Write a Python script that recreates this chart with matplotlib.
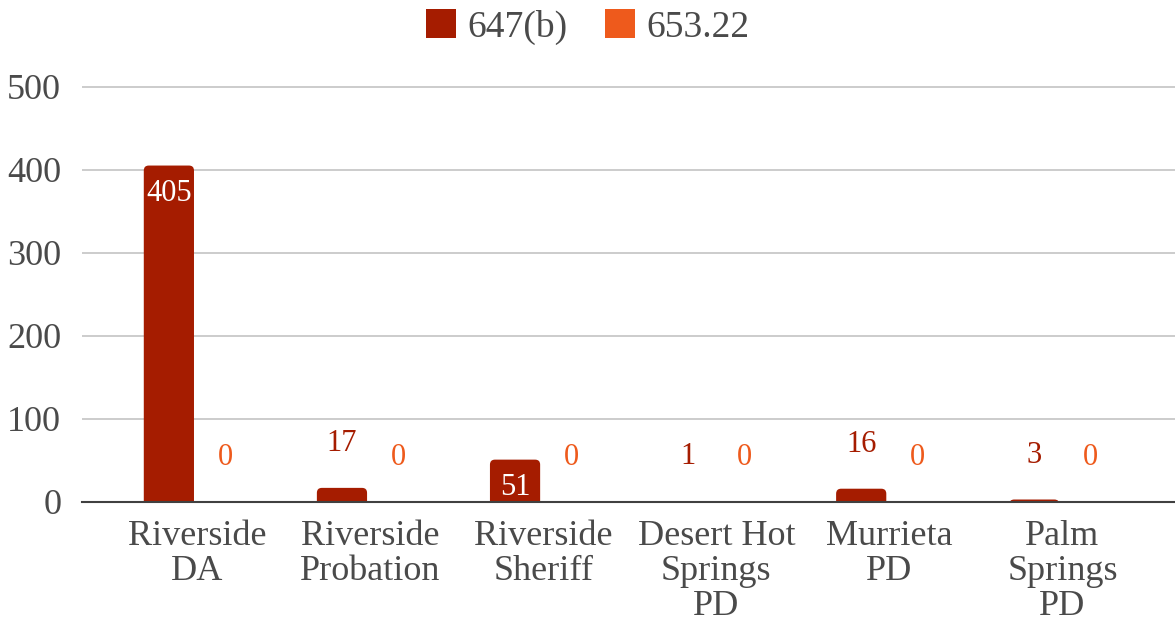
import matplotlib.pyplot as plt
from matplotlib.patches import FancyBboxPatch, Patch
import numpy as np

categories = ["Riverside\nDA", "Riverside\nProbation", "Riverside\nSheriff",
              "Desert Hot\nSprings\nPD", "Murrieta\nPD", "Palm\nSprings\nPD"]
s647b = [405, 17, 51, 1, 16, 3]
s653 = [0, 0, 0, 0, 0, 0]
series_names = ["647(b)", "653.22"]

dark = "#a51c00"
orange = "#ee5a1c"

plt.rcParams['font.family'] = ['Liberation Serif', 'DejaVu Serif']

fig = plt.figure(figsize=(11.75, 6.27), dpi=100)
W, H = 1175, 627
ax = fig.add_axes([82 / W, (H - 502) / H, 1 - 82 / W, (502 - 70) / H])

x = np.arange(len(categories))
bw = 0.29
off = 0.163
b1 = ax.bar(x - off, s647b, bw, color=dark, label=series_names[0])
b2 = ax.bar(x + off, s653, bw, color=orange, label=series_names[1])

ax.set_xlim(-0.665, 5.65)
ax.set_ylim(0, 520)

# rounded tops: swap rectangles for rounded boxes running below the baseline
px_x = 1 / 173.0
px_y = 1 / 0.83
for bars in (b1, b2):
    for r in bars:
        h = r.get_height()
        r.set_visible(False)
        if h <= 0:
            continue
        x0, w = r.get_x(), r.get_width()
        rad = 5 * px_x
        asp = px_y / px_x
        p = FancyBboxPatch((x0 + rad, -20), w - 2 * rad, h + 20 - rad * asp,
                           boxstyle="round,pad=%f,rounding_size=%f" % (rad, rad),
                           mutation_aspect=asp,
                           facecolor=r.get_facecolor(), edgecolor="none", zorder=2)
        ax.add_patch(p)

# data labels
for xi, v in zip(x - off, s647b):
    if v > 40:
        ax.annotate(str(v), (xi, v), xytext=(0, -20), textcoords="offset points",
                    ha="center", va="center", color="white", fontsize=22)
    else:
        ax.annotate(str(v), (xi, v), xytext=(0, 32), textcoords="offset points",
                    ha="center", va="center", color=dark, fontsize=22)
for xi, v in zip(x + off, s653):
    ax.annotate(str(v), (xi, v), xytext=(0, 32), textcoords="offset points",
                ha="center", va="center", color=orange, fontsize=22)

ax.set_yticks([0, 100, 200, 300, 400, 500])
ax.yaxis.grid(True, color="#c8c8c8", linewidth=1.3)
ax.set_axisbelow(True)
ax.set_xticks(x)
ax.set_xticklabels(categories, linespacing=1.08)
ax.tick_params(axis="x", length=0, pad=13, labelsize=26, colors="#4a4a4a")
ax.tick_params(axis="y", length=0, pad=15, labelsize=26, colors="#4a4a4a")
for s in ["top", "right", "left"]:
    ax.spines[s].set_visible(False)
ax.spines["bottom"].set_color("#404040")
ax.spines["bottom"].set_linewidth(1.5)
ax.spines["bottom"].set_zorder(5)

handles = [Patch(facecolor=dark), Patch(facecolor=orange)]
fig.legend(handles, series_names, loc="center", bbox_to_anchor=(0.5, 1 - 27 / H),
           ncol=2, frameon=False, fontsize=27, handlelength=0.8, handleheight=0.8,
           columnspacing=1.0, handletextpad=0.3, labelcolor="#4a4a4a")

fig.savefig("out.png", dpi=100)
